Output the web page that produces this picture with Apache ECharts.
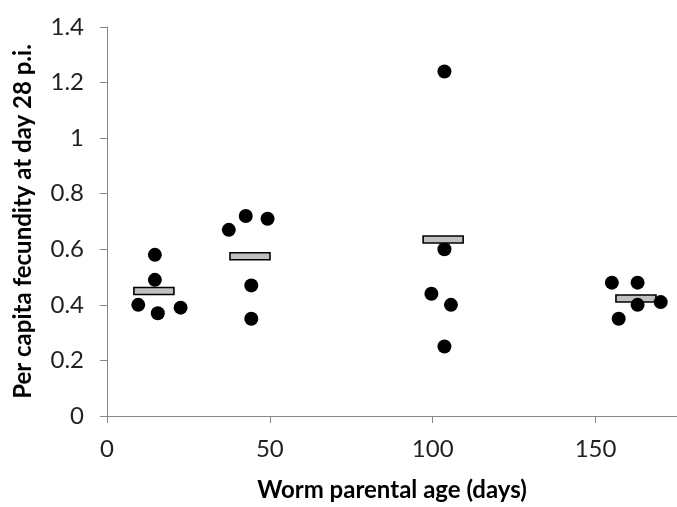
<!DOCTYPE html>
<html>
<head>
<meta charset="utf-8">
<script src="https://cdn.jsdelivr.net/npm/echarts@6/dist/echarts.min.js"></script>
<style>
html,body{margin:0;padding:0;background:#fff;}
#chart{width:677px;height:507px;}
</style>
</head>
<body>
<div id="chart"></div>
<script>
// Individual points per group: [parental age (days), fecundity]
const group1Ages = [14.7, 14.7, 9.6, 15.6, 22.6];
const group1Vals = [0.58, 0.49, 0.40, 0.37, 0.39];
const group2Ages = [37.4, 42.6, 49.3, 44.3, 44.3];
const group2Vals = [0.67, 0.72, 0.71, 0.47, 0.35];
const group3Ages = [103.6, 103.6, 99.6, 105.6, 103.6];
const group3Vals = [1.24, 0.60, 0.44, 0.40, 0.25];
const group4Ages = [155.0, 162.9, 162.9, 170.0, 157.1];
const group4Vals = [0.48, 0.48, 0.40, 0.41, 0.35];
// Group means
const meanAges = [14.4, 43.9, 103.2, 162.4];
const meanVals = [0.45, 0.575, 0.635, 0.423];
// Axis ticks
const xTicks = [0, 50, 100, 150];
const yTicks = [0, 0.2, 0.4, 0.6, 0.8, 1, 1.2, 1.4];

const groupAges = [group1Ages, group2Ages, group3Ages, group4Ages];
const groupVals = [group1Vals, group2Vals, group3Vals, group4Vals];
const meanOnTop = [false, false, true, false];

const BAR_W = 40, BAR_H = 7;
function meanRect(params, api) {
  const c = api.coord([api.value(0), api.value(1)]);
  return {
    type: 'rect',
    shape: { x: c[0] - BAR_W / 2, y: c[1] - BAR_H / 2, width: BAR_W, height: BAR_H },
    style: { fill: '#c0c0c0', stroke: '#000000', lineWidth: 1.6 }
  };
}

const series = [];
groupAges.forEach((ages, g) => {
  series.push({
    type: 'scatter',
    symbol: 'circle',
    symbolSize: 14,
    itemStyle: { color: '#000000', opacity: 1 },
    z: 3,
    silent: true,
    data: ages.map((a, i) => [a, groupVals[g][i]])
  });
  series.push({
    type: 'custom',
    renderItem: meanRect,
    z: meanOnTop[g] ? 4 : 2,
    silent: true,
    data: [[meanAges[g], meanVals[g]]]
  });
});

const chart = echarts.init(document.getElementById('chart'), null, { renderer: 'canvas' });
const fontFam = 'Lato, "Open Sans", sans-serif';
chart.setOption({
  animation: false,
  backgroundColor: '#ffffff',
  grid: { left: 107, right: 0, top: 27, bottom: 90, containLabel: false },
  xAxis: {
    type: 'value',
    min: xTicks[0],
    max: 175,
    interval: xTicks[1] - xTicks[0],
    name: 'Worm parental age (days)',
    nameLocation: 'middle',
    nameGap: 62,
    nameTextStyle: { fontFamily: fontFam, fontSize: 24, fontWeight: 'bold', color: '#000' },
    axisLine: { show: true, lineStyle: { color: '#868686', width: 1 } },
    axisTick: { show: true, length: 7, lineStyle: { color: '#868686' } },
    axisLabel: { fontFamily: fontFam, fontSize: 24, color: '#222', margin: 21, showMaxLabel: false,
      formatter: v => xTicks.includes(v) ? String(v) : '' },
    splitLine: { show: false }
  },
  yAxis: {
    type: 'value',
    min: yTicks[0],
    max: yTicks[yTicks.length - 1],
    interval: 0.2,
    name: 'Per capita fecundity at day 28 p.i.',
    nameLocation: 'middle',
    nameGap: 72,
    nameRotate: 90,
    nameTextStyle: { fontFamily: fontFam, fontSize: 24, fontWeight: 'bold', color: '#000' },
    axisLine: { show: true, lineStyle: { color: '#868686', width: 1 } },
    axisTick: { show: true, length: 7, lineStyle: { color: '#868686' } },
    axisLabel: { fontFamily: fontFam, fontSize: 24, color: '#222', margin: 23,
      formatter: v => { const t = yTicks.find(y => Math.abs(y - v) < 1e-9); return t === undefined ? '' : String(t); } },
    splitLine: { show: false }
  },
  series: series
});
</script>
</body>
</html>
